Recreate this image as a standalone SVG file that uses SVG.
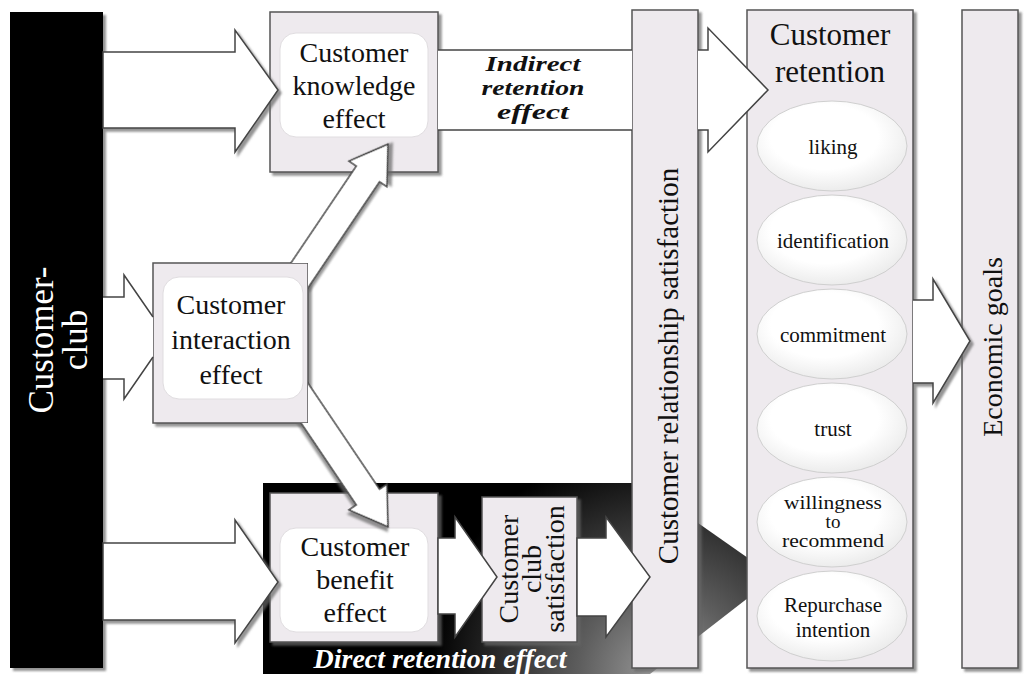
<svg xmlns="http://www.w3.org/2000/svg" width="1024" height="674" viewBox="0 0 1024 674">
<defs>
<filter id="sh" x="-10%" y="-10%" width="130%" height="130%">
<feDropShadow dx="3" dy="3" stdDeviation="1" flood-color="#666" flood-opacity="0.7"/>
</filter>
<radialGradient id="dark" gradientUnits="userSpaceOnUse" cx="660" cy="674" r="230">
<stop offset="0" stop-color="#9a9a9a"/>
<stop offset="0.35" stop-color="#5e5e5e"/>
<stop offset="1" stop-color="#000"/>
</radialGradient>
<radialGradient id="ell" cx="0.45" cy="0.4" r="0.6">
<stop offset="0.6" stop-color="#fff"/>
<stop offset="1" stop-color="#ececec"/>
</radialGradient>
<clipPath id="noInter">
<path clip-rule="evenodd" d="M0,0 H1024 V674 H0 Z M153,263 H308 V423 H153 Z"/>
</clipPath>
<style>
.box{fill:#eeeaee;stroke:#555;stroke-width:1.5;filter:url(#sh)}
.inner{fill:#fff;stroke:#e0dde0;stroke-width:1}
.arrow{fill:#fff;stroke:#444;stroke-width:1.5;stroke-linejoin:miter}
.ln{fill:none;stroke:#444;stroke-width:1.5}
.t{font-family:"Liberation Serif","Times New Roman",serif;fill:#111;text-anchor:middle}
.n28{font-size:28px}
.n21{font-size:21px}
.n19{font-size:19px}
.bi{font-weight:bold;font-style:italic;font-size:22px}
.ell{fill:url(#ell);stroke:#cfcfcf;stroke-width:1}
</style>
</defs>
<rect width="1024" height="674" fill="#fff"/>

<g id="direct-retention">
<polygon points="263,483 641,483 775,577 650,674 263,674" fill="url(#dark)"/>
<text class="t bi" x="440" y="668" style="fill:#fff;font-size:28px">Direct retention effect</text>
</g>

<g id="economic-goals">
<rect class="box" x="962" y="10" width="56" height="658"/>
<text class="t n28" transform="translate(1002,347) rotate(-90)">Economic goals</text>
</g>

<g id="customer-retention">
<rect class="box" x="747" y="10" width="166" height="658"/>
<text class="t" style="font-size:31px" x="830" y="45">Customer</text>
<text class="t" style="font-size:31px" x="830" y="82">retention</text>
<g id="liking"><ellipse class="ell" cx="832" cy="146" rx="75" ry="45"/><text class="t n21" x="833" y="154">liking</text></g>
<g id="identification"><ellipse class="ell" cx="832" cy="240" rx="75" ry="45"/><text class="t n21" x="833" y="248">identification</text></g>
<g id="commitment"><ellipse class="ell" cx="832" cy="334" rx="75" ry="45"/><text class="t n21" x="833" y="342">commitment</text></g>
<g id="trust"><ellipse class="ell" cx="832" cy="428" rx="75" ry="45"/><text class="t n21" x="833" y="436">trust</text></g>
<g id="willingness"><ellipse class="ell" cx="832" cy="522" rx="75" ry="45"/><text class="t n19" x="833" y="509" textLength="98" lengthAdjust="spacingAndGlyphs">willingness</text><text class="t n19" x="833" y="528">to</text><text class="t n19" x="833" y="547" textLength="102" lengthAdjust="spacingAndGlyphs">recommend</text></g>
<g id="repurchase"><ellipse class="ell" cx="832" cy="616" rx="75" ry="45"/><text class="t n21" x="833" y="612">Repurchase</text><text class="t n21" x="833" y="637">intention</text></g>
</g>

<g id="relationship-satisfaction">
<rect class="box" x="632" y="10" width="66" height="658"/>
<text class="t" style="font-size:29px" transform="translate(678,366) rotate(-90)">Customer relationship satisfaction</text>
</g>

<g id="knowledge-effect">
<rect class="box" x="270" y="12" width="168" height="160"/>
<rect class="inner" x="280" y="33" width="148" height="104" rx="16"/>
<text class="t n28" x="354" y="62">Customer</text>
<text class="t n28" x="354" y="95">knowledge</text>
<text class="t n28" x="354" y="128">effect</text>
</g>

<g id="benefit-effect">
<rect class="box" x="270" y="493" width="168" height="149"/>
<rect class="inner" x="280" y="528" width="148" height="104" rx="16"/>
<text class="t n28" x="355" y="556">Customer</text>
<text class="t n28" x="355" y="589">benefit</text>
<text class="t n28" x="355" y="622">effect</text>
</g>

<g id="club-satisfaction">
<rect class="box" x="482" y="497" width="95" height="145"/>
<text class="t n28" transform="translate(518,569) rotate(-90)"><tspan x="0" y="0">Customer</tspan><tspan x="0" y="23">club</tspan><tspan x="0" y="46">satisfaction</tspan></text>
</g>

<g id="interaction-effect">
<rect class="box" x="153" y="263" width="155" height="160"/>
<rect class="inner" x="163" y="277" width="140" height="122" rx="16"/>
<text class="t n28" x="231" y="314">Customer</text>
<text class="t n28" x="231" y="349">interaction</text>
<text class="t n28" x="231" y="384">effect</text>
</g>

<g id="customer-club">
<rect x="10" y="12" width="93" height="656" fill="#000" filter="url(#sh)"/>
<text class="t" style="font-size:35px;fill:#fff" transform="translate(53,340) rotate(-90)"><tspan x="0" y="0">Customer-</tspan><tspan x="0" y="34">club</tspan></text>
</g>

<g id="connectors">
<g id="club-to-knowledge"><path class="arrow" filter="url(#sh)" d="M103,52 H235 V30 L278,90 L235,152 V128 H103 Z"/></g>
<g id="club-to-interaction">
<path fill="#fff" d="M103,297 H124 V275 L153,317 V357 L124,399 V379 H103 Z"/>
<path class="ln" d="M103,297 H124 V275 L153,317 M153,357 L124,399 V379 H103"/>
</g>
<g id="club-to-benefit"><path class="arrow" filter="url(#sh)" d="M103,543 H235 V520 L278,582 L235,643 V620 H103 Z"/></g>
<g id="interaction-diagonals" clip-path="url(#noInter)">
<path class="arrow" filter="url(#sh)" transform="translate(293,285) rotate(-56)" d="M0,-14 H134 V-23 L170,0 L134,23 V14 H0 Z"/>
<path class="arrow" filter="url(#sh)" transform="translate(293,386) rotate(56)" d="M0,-14 H134 V-23 L170,0 L134,23 V14 H0 Z"/>
</g>
<g id="indirect-retention">
<rect x="438" y="50" width="194" height="80" fill="#fff"/>
<path class="ln" d="M438,50 H632 M438,130 H632"/>
<path fill="#fff" d="M698,50 H708 V28 L768,90 L708,152 V130 H698 Z"/>
<path class="ln" d="M698,50 H708 V28 L768,90 L708,152 V130 H698"/>
<text class="t bi" x="533" y="71" textLength="95" lengthAdjust="spacingAndGlyphs">Indirect</text>
<text class="t bi" x="533" y="95" textLength="103" lengthAdjust="spacingAndGlyphs">retention</text>
<text class="t bi" x="533" y="119" textLength="72" lengthAdjust="spacingAndGlyphs">effect</text>
</g>
<g id="benefit-to-clubsat"><path class="arrow" d="M438,538 H455 V517 L497,577 L455,637 V614 H438 Z"/></g>
<g id="clubsat-to-relationship"><path class="arrow" d="M577,538 H606 V517 L650,577 L606,637 V616 H577 Z"/></g>
<g id="retention-to-economic"><path class="arrow" filter="url(#sh)" d="M913,300 H933 V279 L970,341 L933,403 V383 H913"/></g>
</g>
</svg>
